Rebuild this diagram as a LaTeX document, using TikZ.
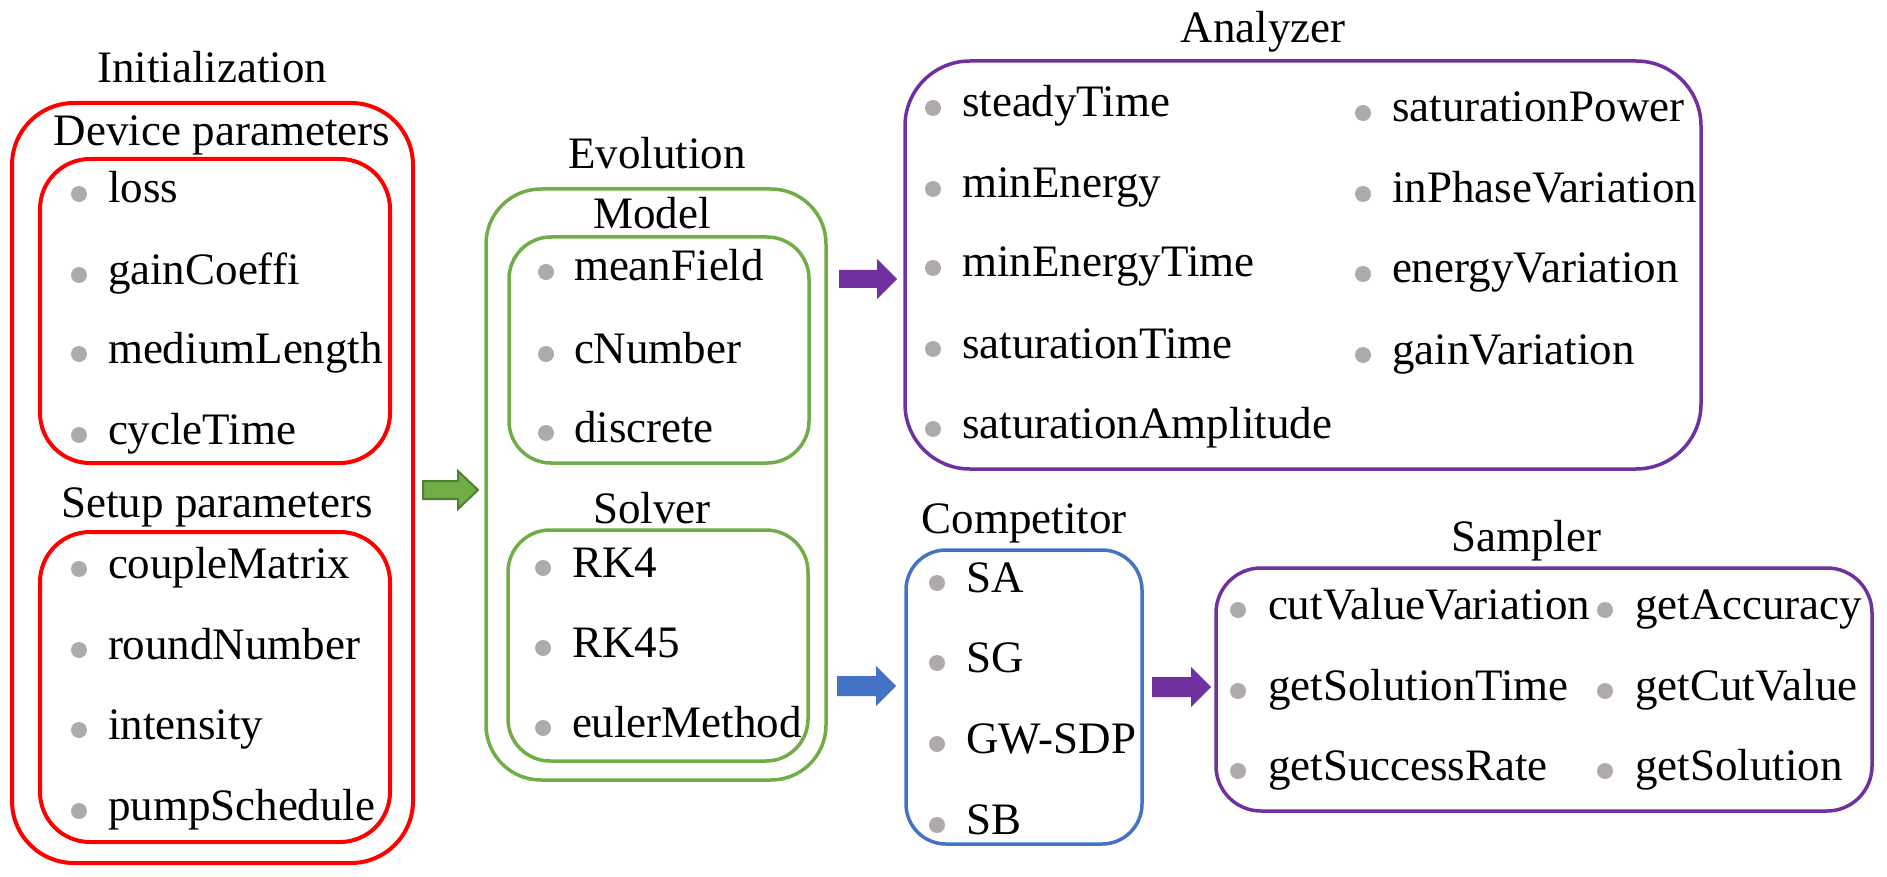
\documentclass[tikz,border=0pt]{standalone}
\usepackage{fontspec}
\setmainfont{Liberation Serif}
\newfontfamily\tnrfont{Liberation Serif}
\usetikzlibrary{calc}
\definecolor{cred}{RGB}{255,0,0}
\definecolor{cgreen}{RGB}{112,173,71}
\definecolor{cgreendark}{RGB}{80,126,50}
\definecolor{cpurple}{RGB}{112,48,160}
\definecolor{cblue}{RGB}{68,114,196}
\definecolor{cbullet}{RGB}{174,170,170}
\newcommand\bitem[5]{\node[bul] (#1b) at (#2,#4) {}; \node[txt] (#1) at (#3,#4+9) {#5};}
\newcommand\blockarr[6]{\path[#1] let \p1=(#2), \p2=(#3) in (\x1,\y1+#5pt) -- (\x2-#4pt,\y1+#5pt) -- (\x2-#4pt,\y1+#6pt) -- (\x2,\y1) -- (\x2-#4pt,\y1-#6pt) -- (\x2-#4pt,\y1-#5pt) -- (\x1,\y1-#5pt) -- cycle;}
\begin{document}
\begin{tikzpicture}[x=1pt,y=-1pt,
  every node/.style={inner sep=0pt, outer sep=0pt},
  txt/.style={font=\tnrfont\fontsize{45}{54}\selectfont, anchor=base west},
  ttl/.style={font=\tnrfont\fontsize{45}{54}\selectfont, anchor=base},
  frame/.style={draw=#1, anchor=north west, line width=3.5pt},
  bul/.style={circle, fill=cbullet, minimum size=16pt},
  garrow/.style={fill=cgreen, draw=cgreendark, line width=2pt, line join=miter},
  parrow/.style={fill=cpurple},
  barrow/.style={fill=cblue}]
\useasboundingbox (0,0) rectangle (1887,877);

% ---------- Initialization ----------
\node[ttl] (tInit) at (212,83) {Initialization};
\node[frame=cred, line width=4pt, rounded corners=62pt, minimum width=401pt, minimum height=760pt] (init) at (12,103) {};
\node[ttl] (tDev) at (222,146) {Device parameters};
\node[frame=cred, line width=4pt, rounded corners=50pt, minimum width=350pt, minimum height=304pt] (dev) at (40,159) {};
\bitem{loss}{79}{108}{194}{loss}
\bitem{gain}{79}{108}{275}{gainCoeffi}
\bitem{medium}{79}{108}{354}{mediumLength}
\bitem{cycle}{79}{108}{435}{cycleTime}
\node[ttl] (tSet) at (217,517) {Setup parameters};
\node[frame=cred, line width=4pt, rounded corners=50pt, minimum width=350pt, minimum height=310pt] (setup) at (40,532) {};
\bitem{couple}{79}{108}{569}{coupleMatrix}
\bitem{round}{79}{108}{650}{roundNumber}
\bitem{intens}{79}{108}{730}{intensity}
\bitem{pump}{79}{108}{811}{pumpSchedule}

% ---------- Evolution ----------
\node[ttl] (tEvo) at (657,169) {Evolution};
\node[frame=cgreen, rounded corners=55pt, minimum width=340pt, minimum height=591pt] (evo) at (486,189) {};
\node[ttl] (tModel) at (652,229) {Model};
\node[frame=cgreen, rounded corners=42pt, minimum width=300pt, minimum height=226pt] (model) at (509,237) {};
\bitem{mean}{546}{574}{272}{meanField}
\bitem{cnum}{546}{574}{354}{cNumber}
\bitem{disc}{546}{574}{433}{discrete}
\node[ttl] (tSolver) at (652,523) {Solver};
\node[frame=cgreen, rounded corners=42pt, minimum width=300pt, minimum height=231pt] (solver) at (508,530) {};
\bitem{rkf}{543}{572}{568}{RK4}
\bitem{rkff}{543}{572}{648}{RK45}
\bitem{euler}{543}{572}{728}{eulerMethod}

% ---------- Analyzer ----------
\node[ttl] (tAna) at (1263,43) {Analyzer};
\node[frame=cpurple, rounded corners=65pt, minimum width=796pt, minimum height=408pt] (ana) at (905,61) {};
\bitem{steady}{933}{962}{108}{steadyTime}
\bitem{minE}{933}{962}{189}{minEnergy}
\bitem{minET}{933}{962}{268}{minEnergyTime}
\bitem{satT}{933}{962}{349}{saturationTime}
\bitem{satA}{933}{962}{429}{saturationAmplitude}
\bitem{satP}{1363}{1392}{113}{saturationPower}
\bitem{inPh}{1363}{1392}{194}{inPhaseVariation}
\bitem{enV}{1363}{1392}{274}{energyVariation}
\bitem{gaV}{1363}{1392}{355}{gainVariation}

% ---------- Competitor ----------
\node[ttl] (tComp) at (1024,533) {Competitor};
\node[frame=cblue, rounded corners=40pt, minimum width=236pt, minimum height=294pt] (comp) at (906,550) {};
\bitem{sa}{937}{966}{583}{SA}
\bitem{sg}{937}{966}{663}{SG}
\bitem{gw}{937}{966}{744}{GW-SDP}
\bitem{sb}{937}{966}{825}{SB}

% ---------- Sampler ----------
\node[ttl] (tSamp) at (1526,551) {Sampler};
\node[frame=cpurple, rounded corners=45pt, minimum width=656pt, minimum height=243pt] (samp) at (1216,568) {};
\bitem{cutV}{1238}{1268}{610}{cutValueVariation}
\bitem{getST}{1238}{1268}{691}{getSolutionTime}
\bitem{getSR}{1238}{1268}{771}{getSuccessRate}
\bitem{getAcc}{1605}{1635}{610}{getAccuracy}
\bitem{getCV}{1605}{1635}{691}{getCutValue}
\bitem{getSol}{1605}{1635}{771}{getSolution}

% ---------- Arrows ----------
\coordinate (ga) at (423,490);
\coordinate (gb) at (478,490);
\blockarr{garrow}{ga}{gb}{20}{9}{19}
\coordinate (pa) at (839,279);
\coordinate (pb) at (897,279);
\blockarr{parrow}{pa}{pb}{20}{9}{20}
\coordinate (ba) at (837,686);
\coordinate (bb) at (896,686);
\blockarr{barrow}{ba}{bb}{20}{10}{20}
\coordinate (qa) at (1152,687);
\coordinate (qb) at (1211,687);
\blockarr{parrow}{qa}{qb}{20}{10}{20}
\end{tikzpicture}
\end{document}
